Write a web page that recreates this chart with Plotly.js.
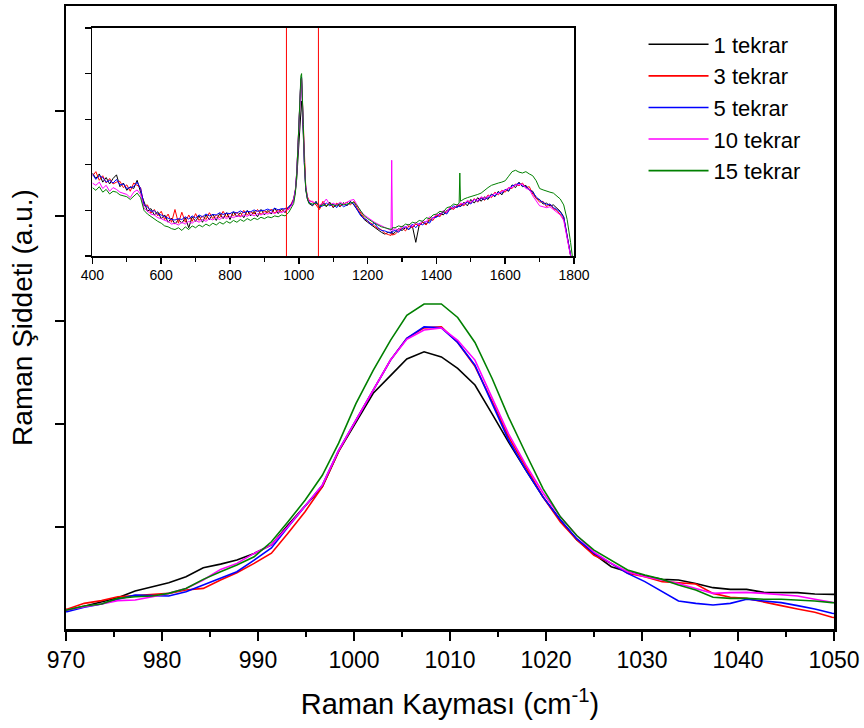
<!DOCTYPE html>
<html>
<head>
<meta charset="utf-8">
<script src="https://cdn.plot.ly/plotly-3.0.1.min.js"></script>
<style>html,body{margin:0;padding:0;background:#fff;}#chart{width:864px;height:728px;}</style>
</head>
<body>
<div id="chart"></div>
<script>
// ---------- Main chart data (Raman shift, cm-1) ----------
const shift = [968.4,970.1,971.9,973.7,975.4,977.2,979.0,980.7,982.5,984.3,986.1,987.8,989.6,991.4,993.1,994.9,996.7,998.4,1000.2,1002.0,1003.8,1005.5,1007.3,1009.1,1010.8,1012.6,1014.4,1016.1,1017.9,1019.7,1021.5,1023.2,1025.0,1026.8,1028.5,1030.3,1032.1,1033.8,1035.6,1037.4,1039.2,1040.9,1042.7,1044.5,1046.2,1048.0,1049.8,1051.6];

const rep1 = [0.16,0.173,0.21,0.25,0.29,0.356,0.397,0.436,0.494,0.58,0.615,0.654,0.718,0.80,0.99,1.17,1.36,1.70,1.98,2.26,2.43,2.59,2.66,2.61,2.50,2.34,2.06,1.79,1.52,1.26,1.04,0.85,0.71,0.59,0.542,0.50,0.468,0.462,0.429,0.388,0.372,0.372,0.343,0.340,0.340,0.327,0.324,0.32];
const rep3 = [0.17,0.181,0.237,0.263,0.301,0.311,0.317,0.333,0.365,0.381,0.462,0.532,0.622,0.72,0.91,1.12,1.36,1.70,2.0,2.29,2.58,2.79,2.89,2.90,2.75,2.52,2.18,1.84,1.55,1.26,1.02,0.85,0.70,0.622,0.526,0.494,0.446,0.436,0.423,0.333,0.295,0.285,0.253,0.215,0.183,0.151,0.103,0.08];
const rep5 = [0.14,0.157,0.199,0.231,0.276,0.317,0.311,0.308,0.349,0.413,0.478,0.542,0.654,0.77,0.97,1.17,1.375,1.71,2.0,2.29,2.58,2.79,2.90,2.89,2.75,2.53,2.16,1.81,1.52,1.26,1.04,0.86,0.72,0.622,0.526,0.446,0.349,0.26,0.237,0.221,0.237,0.276,0.26,0.244,0.215,0.183,0.141,0.12];
const rep10 = [0.16,0.173,0.205,0.231,0.263,0.269,0.301,0.333,0.381,0.462,0.564,0.622,0.718,0.80,0.974,1.17,1.375,1.71,2.0,2.29,2.58,2.78,2.87,2.89,2.77,2.58,2.22,1.87,1.57,1.30,1.07,0.89,0.73,0.622,0.542,0.494,0.462,0.429,0.381,0.333,0.340,0.343,0.333,0.317,0.308,0.276,0.247,0.23];
const rep15 = [0.16,0.173,0.212,0.231,0.285,0.301,0.308,0.333,0.381,0.468,0.542,0.606,0.686,0.83,1.02,1.23,1.47,1.78,2.16,2.48,2.77,3.01,3.12,3.12,2.99,2.75,2.40,2.03,1.68,1.34,1.07,0.89,0.75,0.654,0.558,0.51,0.468,0.413,0.365,0.295,0.285,0.285,0.276,0.276,0.269,0.260,0.244,0.23];

const seriesNames = ['1 tekrar','3 tekrar','5 tekrar','10 tekrar','15 tekrar'];
const seriesColors = ['#000000','#ff0000','#0000ff','#ff00ff','#008000'];

// ---------- Inset data (full spectrum 400-1800 cm-1) ----------
function range(a, b, s) { const r = []; for (let v = a; v <= b; v += s) r.push(v); return r; }
const insetShift = [].concat(
  range(400, 980, 10),
  [985,990,994,998,1001,1004,1006,1008,1010,1013,1016,1020,1025,1030],
  range(1040, 1260, 10),
  [1268,1270,1272],
  range(1280, 1460, 10),
  [1466,1468],
  range(1470, 1800, 10)
);

const inset1 = [1.82,1.70,1.80,1.62,1.72,1.58,1.70,1.78,1.52,1.60,1.44,1.52,1.48,1.66,1.40,1.20,0.98,1.04,0.90,0.97,0.82,0.90,0.74,0.83,0.70,0.80,0.72,0.84,0.62,0.86,0.76,0.88,0.74,0.90,0.80,0.92,0.78,0.93,0.82,0.95,0.80,0.97,0.86,0.95,0.84,1.00,0.88,0.98,0.86,1.02,0.90,1.00,0.92,1.05,0.93,1.03,0.95,1.08,1.14,
  1.22,1.42,1.70,2.20,2.75,3.15,3.36,3.40,3.15,2.55,1.90,1.45,1.25,1.15,
  1.10,1.20,1.05,1.16,1.08,1.18,1.06,1.14,1.08,1.17,1.10,1.20,1.12,1.02,0.90,0.80,0.74,0.68,0.62,0.58,0.52,0.48,0.52,
  0.50,0.54,0.48,
  0.52,0.60,0.56,0.62,0.58,0.66,0.30,0.68,0.74,0.70,0.78,0.84,0.86,0.94,0.90,1.00,1.02,1.06,1.08,
  1.12,1.10,
  1.08,1.18,1.10,1.24,1.16,1.28,1.20,1.30,1.24,1.36,1.30,1.42,1.34,1.46,1.42,1.56,1.50,1.62,1.52,1.55,1.44,1.42,1.26,1.24,1.14,1.16,1.10,1.12,1.04,0.98,0.86,0.46,0.06,-0.40];
const inset3 = [1.75,1.85,1.66,1.76,1.60,1.70,1.58,1.62,1.64,1.50,1.56,1.42,1.60,1.55,1.50,1.10,1.12,0.94,1.02,0.88,0.98,0.80,0.92,0.74,1.02,0.72,0.96,0.74,0.90,0.76,0.93,0.78,0.88,0.80,0.95,0.82,0.90,0.84,0.98,0.85,0.94,0.88,0.96,0.86,1.00,0.90,0.97,0.92,1.02,0.91,0.99,0.95,1.03,0.94,1.02,0.97,1.05,1.02,1.16,
  1.26,1.46,1.85,2.50,3.10,3.60,3.86,3.90,3.52,2.78,2.00,1.52,1.30,1.22,
  1.18,1.12,1.02,1.20,1.10,1.15,1.08,1.16,1.10,1.14,1.18,1.12,1.20,1.05,0.94,0.84,0.76,0.72,0.66,0.60,0.58,0.50,0.47,
  0.45,0.50,0.46,
  0.48,0.56,0.62,0.55,0.66,0.62,0.70,0.66,0.74,0.68,0.82,0.78,0.90,0.86,0.98,0.94,1.06,1.02,1.12,
  1.08,1.14,
  1.14,1.10,1.20,1.16,1.26,1.18,1.28,1.22,1.34,1.28,1.40,1.34,1.44,1.40,1.50,1.48,1.58,1.54,1.60,1.50,1.52,1.36,1.28,1.18,1.20,1.08,1.14,1.04,1.00,0.92,0.82,0.42,0.04,-0.40];
const inset5 = [1.80,1.68,1.76,1.72,1.62,1.66,1.60,1.68,1.56,1.58,1.48,1.50,1.52,1.62,1.48,1.12,1.08,0.98,0.99,0.92,0.90,0.86,0.83,0.80,0.79,0.82,0.80,0.86,0.81,0.88,0.83,0.90,0.86,0.92,0.88,0.91,0.90,0.95,0.91,0.94,0.93,0.97,0.94,0.99,0.95,0.98,0.97,1.01,0.98,1.00,1.00,1.03,0.99,1.05,1.01,1.04,1.03,1.06,1.15,
  1.24,1.45,1.84,2.48,3.08,3.58,3.88,3.92,3.55,2.80,2.02,1.50,1.26,1.18,
  1.12,1.18,1.08,1.10,1.16,1.10,1.14,1.06,1.15,1.08,1.12,1.18,1.14,1.00,0.88,0.82,0.78,0.68,0.72,0.62,0.56,0.55,0.52,
  0.52,0.50,0.54,
  0.56,0.52,0.60,0.64,0.58,0.70,0.62,0.72,0.68,0.76,0.72,0.84,0.85,0.90,0.96,0.92,1.04,1.10,1.06,
  1.10,1.08,
  1.10,1.14,1.18,1.14,1.24,1.20,1.26,1.24,1.28,1.34,1.32,1.40,1.38,1.46,1.44,1.54,1.56,1.60,1.54,1.52,1.46,1.40,1.30,1.22,1.18,1.12,1.14,1.06,1.02,0.96,0.85,0.45,0.05,-0.40];
const inset10 = [1.60,1.55,1.62,1.48,1.55,1.42,1.50,1.46,1.40,1.38,1.35,1.28,1.40,1.45,1.35,1.05,0.98,0.92,0.90,0.84,0.82,0.78,0.76,0.70,0.72,0.68,0.74,0.70,0.76,0.72,0.78,0.74,0.80,0.76,0.82,0.79,0.84,0.80,0.86,0.82,0.87,0.84,0.88,0.86,0.90,0.87,0.92,0.88,0.93,0.90,0.94,0.92,0.96,0.93,0.98,0.95,0.99,1.02,1.12,
  1.22,1.42,1.82,2.46,3.06,3.56,3.85,3.90,3.56,2.82,2.04,1.55,1.28,1.20,
  1.20,1.14,1.12,1.15,1.25,1.12,1.16,1.12,1.18,1.14,1.18,1.22,1.24,1.10,0.98,0.90,0.84,0.78,0.74,0.70,0.66,0.62,0.58,
  0.56,2.10,0.56,
  0.60,0.56,0.66,0.62,0.70,0.64,0.74,0.68,0.78,0.74,0.86,0.82,0.92,0.90,1.00,0.96,1.08,1.04,1.12,
  1.12,1.14,
  1.16,1.14,1.22,1.18,1.24,1.22,1.30,1.26,1.32,1.30,1.38,1.36,1.42,1.44,1.50,1.50,1.56,1.56,1.58,1.48,1.46,1.32,1.20,1.10,1.08,1.06,1.08,1.02,0.98,0.90,0.78,0.40,0.02,-0.40];
const inset15 = [1.50,1.44,1.52,1.40,1.46,1.36,1.42,1.40,1.34,1.32,1.30,1.24,1.32,1.38,1.28,1.00,0.92,0.86,0.80,0.76,0.72,0.66,0.64,0.60,0.58,0.62,0.56,0.64,0.58,0.66,0.62,0.68,0.64,0.70,0.66,0.72,0.68,0.74,0.70,0.76,0.72,0.78,0.74,0.80,0.76,0.82,0.78,0.83,0.80,0.85,0.82,0.86,0.84,0.88,0.86,0.90,0.88,0.95,1.08,
  1.15,1.38,1.80,2.48,3.12,3.66,3.95,4.00,3.65,2.88,2.05,1.50,1.25,1.15,
  1.14,1.16,1.10,1.12,1.10,1.14,1.12,1.10,1.15,1.12,1.14,1.16,1.18,1.10,0.98,0.88,0.82,0.76,0.72,0.68,0.64,0.62,0.60,
  0.60,0.58,0.62,
  0.62,0.66,0.64,0.70,0.68,0.74,0.72,0.78,0.76,0.84,0.82,0.90,0.92,0.98,0.96,1.06,1.08,1.14,1.12,
  1.16,1.82,
  1.20,1.25,1.28,1.30,1.32,1.35,1.38,1.45,1.50,1.55,1.58,1.60,1.62,1.65,1.75,1.85,1.88,1.84,1.82,1.85,1.80,1.76,1.65,1.48,1.45,1.42,1.40,1.38,1.32,1.25,1.12,0.80,0.30,-0.30];

const windowLines = [964, 1057];

const mainSeries = [rep1, rep3, rep5, rep10, rep15];
const insetSeries = [inset1, inset3, inset5, inset10, inset15];

const FONT = 'Liberation Sans, Arial, Helvetica, sans-serif';
const traces = [];
mainSeries.forEach((ys, i) => {
  traces.push({
    x: shift, y: ys, type: 'scatter', mode: 'lines', name: seriesNames[i],
    line: {color: seriesColors[i], width: 1.6}, xaxis: 'x', yaxis: 'y', showlegend: true
  });
});
insetSeries.forEach((ys, i) => {
  traces.push({
    x: insetShift, y: ys, type: 'scatter', mode: 'lines', name: seriesNames[i],
    line: {color: seriesColors[i], width: 1}, xaxis: 'x2', yaxis: 'y2', showlegend: false, hoverinfo: 'skip'
  });
});

const shapes = windowLines.map(v => ({
  type: 'line', xref: 'x2', yref: 'y2 domain', x0: v, x1: v, y0: 0, y1: 1,
  line: {color: '#ff0000', width: 1}
}));

const layout = {
  width: 864, height: 728,
  margin: {l: 66, r: 30, t: 6, b: 99},
  paper_bgcolor: '#ffffff', plot_bgcolor: '#ffffff',
  font: {family: FONT, color: '#000000'},
  showlegend: true,
  legend: {x: 0.752, y: 0.972, xanchor: 'left', yanchor: 'top', font: {size: 22, family: FONT, color: '#000'},
           bgcolor: 'rgba(0,0,0,0)', borderwidth: 0, tracegroupgap: 0, itemwidth: 60},
  xaxis: {
    domain: [0, 1], anchor: 'y', range: [970, 1050], dtick: 10, tick0: 970,
    ticks: 'outside', ticklen: 9, tickwidth: 2, tickcolor: '#000',
    minor: {dtick: 5, ticks: 'outside', ticklen: 5, tickwidth: 2, tickcolor: '#000'},
    showline: true, linewidth: 2.5, linecolor: '#000', mirror: true,
    showgrid: false, zeroline: false,
    tickfont: {size: 23, family: FONT, color: '#000'},
    title: {text: 'Raman Kayması (cm<sup>-1</sup>)', font: {size: 29, family: FONT, color: '#000'}, standoff: 22}
  },
  yaxis: {
    domain: [0, 1], anchor: 'x', range: [-0.01, 5.99],
    tickvals: [0.97, 1.96, 2.96, 3.97, 4.98],
    ticks: 'outside', ticklen: 9, tickwidth: 2, tickcolor: '#000',
    showticklabels: false,
    showline: true, linewidth: 2.5, linecolor: '#000', mirror: true,
    showgrid: false, zeroline: false,
    title: {text: 'Raman Şiddeti (a.u.)', font: {size: 28, family: FONT, color: '#000'}, standoff: 14}
  },
  xaxis2: {
    domain: [0.0344, 0.6615], anchor: 'y2', range: [400, 1800], dtick: 200, tick0: 400,
    ticks: 'outside', ticklen: 6, tickwidth: 1.5, tickcolor: '#000',
    minor: {dtick: 100, ticks: 'outside', ticklen: 4, tickwidth: 1.2, tickcolor: '#000'},
    showline: true, linewidth: 1.5, linecolor: '#000', mirror: true,
    showgrid: false, zeroline: false,
    tickfont: {size: 14, family: FONT, color: '#000'}
  },
  yaxis2: {
    domain: [0.5987, 0.9647], anchor: 'x2', range: [0, 5], dtick: 1, tick0: 0,
    ticks: 'outside', ticklen: 6, tickwidth: 1.2, tickcolor: '#000',
    showticklabels: false,
    showline: true, linewidth: 1.5, linecolor: '#000', mirror: true,
    showgrid: false, zeroline: false
  },
  shapes: shapes
};

Plotly.newPlot('chart', traces, layout, {displayModeBar: false, staticPlot: true});
</script>
</body>
</html>
